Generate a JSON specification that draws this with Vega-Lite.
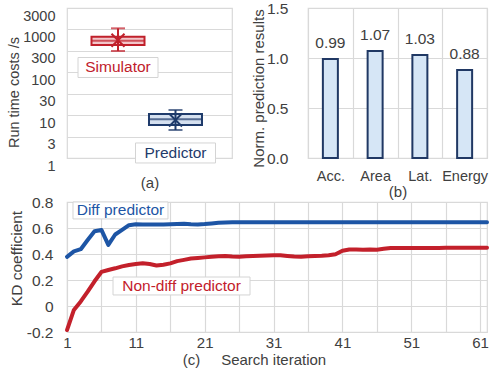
{
  "$schema": "https://vega.github.io/schema/vega-lite/v6.json",
  "autosize": {"type": "none"},
  "padding": {"left": 67, "top": 8, "right": 425, "bottom": 363},
  "bounds": "flush",
  "spacing": 194,
  "resolve": {"scale": {"color": "independent", "fill": "independent", "stroke": "independent"}},
  "config": {
    "font": "Liberation Sans",
    "view": {"stroke": "#D9D9D9", "strokeWidth": 1.2},
    "axis": {
      "labelFont": "Liberation Sans", "titleFont": "Liberation Sans",
      "labelFontSize": 15, "titleFontSize": 15, "titleFontWeight": "normal",
      "labelColor": "#404040", "titleColor": "#404040", "labelOverlap": false,
      "gridColor": "#D9D9D9", "gridWidth": 1.2, "domain": false, "ticks": false
    },
    "text": {"font": "Liberation Sans"}
  },
  "vconcat": [
    {
      "hconcat": [
        {
          "width": 165,
          "height": 150,
          "data": {"values": [
            {"tool": "Simulator", "min": 314, "q1": 433, "median": 547, "q3": 677, "max": 1061, "mean": 560},
            {"tool": "Predictor", "min": 4.5, "q1": 5.9, "median": 8.0, "q3": 10.6, "max": 13.2, "mean": 7.7}
          ]},
          "encoding": {
            "x": {"field": "tool", "type": "nominal", "sort": ["Simulator", "Predictor"],
              "scale": {"paddingInner": 0, "paddingOuter": 0.435, "align": 0.445},
              "axis": {"labels": false, "grid": false, "title": "(a)", "titleY": 24, "titleBaseline": "middle", "titleFontSize": 15}}
          },
          "layer": [
            {
              "mark": {"type": "bar", "size": 53, "strokeWidth": 2},
              "encoding": {
                "y": {"field": "q1", "type": "quantitative", "title": "Run time costs /s",
                  "scale": {"type": "log", "domain": [1, 3163], "nice": false},
                  "axis": {"values": [1, 3.16228, 10, 31.6228, 100, 316.228, 1000, 3162.28], "format": ".1r",
                    "labelOverlap": false, "labelFlush": false, "tickCount": 20,
                    "labelFontSize": 14.5, "labelPadding": 12, "labelOffset": 8,
                    "title": "Run time costs /s", "titleFontSize": 14.5, "titleX": -53, "titleY": 84, "titleAngle": -90,
                    "titleBaseline": "middle", "titleAlign": "center"}},
                "y2": {"field": "q3"},
                "fill": {"field": "tool", "type": "nominal", "scale": {"domain": ["Simulator", "Predictor"], "range": ["#F2C6CA", "#D5E0EF"]}, "legend": null},
                "stroke": {"field": "tool", "type": "nominal", "scale": {"domain": ["Simulator", "Predictor"], "range": ["#C0202B", "#1F3B6B"]}, "legend": null}
              }
            },
            {
              "mark": {"type": "tick", "size": 53, "thickness": 2},
              "encoding": {
                "y": {"field": "median", "type": "quantitative", "title": "Run time costs /s"},
                "color": {"field": "tool", "type": "nominal", "scale": {"domain": ["Simulator", "Predictor"], "range": ["#C0202B", "#1F3B6B"]}, "legend": null}
              }
            },
            {
              "mark": {"type": "rule", "strokeWidth": 2},
              "encoding": {
                "y": {"field": "min", "type": "quantitative", "title": "Run time costs /s"},
                "y2": {"field": "max"},
                "color": {"field": "tool", "type": "nominal", "legend": null}
              }
            },
            {
              "mark": {"type": "tick", "size": 14, "thickness": 2},
              "encoding": {
                "y": {"field": "min", "type": "quantitative", "title": "Run time costs /s"},
                "color": {"field": "tool", "type": "nominal", "legend": null}
              }
            },
            {
              "mark": {"type": "tick", "size": 14, "thickness": 2},
              "encoding": {
                "y": {"field": "max", "type": "quantitative", "title": "Run time costs /s"},
                "color": {"field": "tool", "type": "nominal", "legend": null}
              }
            },
            {
              "mark": {"type": "point", "shape": "M-1,-1L1,1M-1,1L1,-1", "size": 169, "strokeWidth": 2, "filled": false, "opacity": 1},
              "encoding": {
                "y": {"field": "mean", "type": "quantitative", "title": "Run time costs /s"},
                "color": {"field": "tool", "type": "nominal", "legend": null}
              }
            },
            {
              "data": {"values": [
                {"tool": "Simulator", "pos": 129.4},
                {"tool": "Predictor", "pos": 1.31}
              ]},
              "mark": {"type": "point", "shape": "M-1,-0.25L1,-0.25L1,0.25L-1,0.25Z", "size": 6400, "filled": true, "fill": "#FFFFFF", "stroke": "#D4D4D4", "strokeWidth": 1, "opacity": 1},
              "encoding": {
                "y": {"field": "pos", "type": "quantitative", "title": "Run time costs /s"}
              }
            },
            {
              "data": {"values": [
                {"tool": "Simulator", "pos": 129.4},
                {"tool": "Predictor", "pos": 1.31}
              ]},
              "mark": {"type": "text", "fontSize": 15.5, "baseline": "middle", "align": "center"},
              "encoding": {
                "y": {"field": "pos", "type": "quantitative", "title": "Run time costs /s"},
                "text": {"field": "tool"},
                "color": {"field": "tool", "type": "nominal", "legend": null}
              }
            }
          ]
        },
        {
          "width": 179,
          "height": 150,
          "data": {"values": [
            {"metric": "Acc.", "value": 0.99},
            {"metric": "Area", "value": 1.07},
            {"metric": "Lat.", "value": 1.03},
            {"metric": "Energy", "value": 0.88}
          ]},
          "encoding": {
            "x": {"field": "metric", "type": "nominal", "sort": null,
              "scale": {"paddingInner": 0, "paddingOuter": 0},
              "axis": {"labelAngle": 0, "labelPadding": 11, "labelFontSize": 14.5, "grid": true, "tickBand": "extent",
                "labelOverlap": false,
                "title": "(b)", "titleY": 33, "titleBaseline": "middle"}},
            "y": {"field": "value", "type": "quantitative",
              "scale": {"domain": [0, 1.5], "nice": false},
              "axis": {"values": [0, 0.5, 1, 1.5], "format": ".1f", "labelPadding": 20, "labelFontSize": 15.5,
                "labelOverlap": false, "tickCount": 10,
                "title": "Norm. prediction results", "titleX": -50, "titleY": 80, "titleAngle": -90,
                "titleBaseline": "middle", "titleAlign": "center"}}
          },
          "layer": [
            {"mark": {"type": "bar", "size": 15, "fill": "#D6E6F6", "stroke": "#203864", "strokeWidth": 2}},
            {"mark": {"type": "text", "dy": -16, "fontSize": 15.5, "color": "#404040", "baseline": "middle"},
             "encoding": {"text": {"field": "value", "type": "quantitative", "format": ".2f"}}}
          ]
        }
      ],
      "spacing": 76,
      "bounds": "flush",
      "resolve": {"scale": {"color": "independent", "fill": "independent", "stroke": "independent"}}
    },
    {
      "width": 420,
      "height": 130,
      "data": {"values": [
        {"iter": 1, "series": "Diff predictor", "kd": 0.378},
        {"iter": 2, "series": "Diff predictor", "kd": 0.42},
        {"iter": 3, "series": "Diff predictor", "kd": 0.437},
        {"iter": 4, "series": "Diff predictor", "kd": 0.508},
        {"iter": 5, "series": "Diff predictor", "kd": 0.575},
        {"iter": 6, "series": "Diff predictor", "kd": 0.585},
        {"iter": 7, "series": "Diff predictor", "kd": 0.47},
        {"iter": 8, "series": "Diff predictor", "kd": 0.55},
        {"iter": 9, "series": "Diff predictor", "kd": 0.585},
        {"iter": 10, "series": "Diff predictor", "kd": 0.622},
        {"iter": 11, "series": "Diff predictor", "kd": 0.628},
        {"iter": 12, "series": "Diff predictor", "kd": 0.627},
        {"iter": 13, "series": "Diff predictor", "kd": 0.626},
        {"iter": 14, "series": "Diff predictor", "kd": 0.626},
        {"iter": 15, "series": "Diff predictor", "kd": 0.627},
        {"iter": 16, "series": "Diff predictor", "kd": 0.628},
        {"iter": 17, "series": "Diff predictor", "kd": 0.63},
        {"iter": 18, "series": "Diff predictor", "kd": 0.632},
        {"iter": 19, "series": "Diff predictor", "kd": 0.628},
        {"iter": 20, "series": "Diff predictor", "kd": 0.627},
        {"iter": 21, "series": "Diff predictor", "kd": 0.63},
        {"iter": 22, "series": "Diff predictor", "kd": 0.635},
        {"iter": 23, "series": "Diff predictor", "kd": 0.64},
        {"iter": 24, "series": "Diff predictor", "kd": 0.642},
        {"iter": 25, "series": "Diff predictor", "kd": 0.644},
        {"iter": 26, "series": "Diff predictor", "kd": 0.644},
        {"iter": 27, "series": "Diff predictor", "kd": 0.644},
        {"iter": 28, "series": "Diff predictor", "kd": 0.644},
        {"iter": 29, "series": "Diff predictor", "kd": 0.644},
        {"iter": 30, "series": "Diff predictor", "kd": 0.644},
        {"iter": 31, "series": "Diff predictor", "kd": 0.644},
        {"iter": 32, "series": "Diff predictor", "kd": 0.644},
        {"iter": 33, "series": "Diff predictor", "kd": 0.644},
        {"iter": 34, "series": "Diff predictor", "kd": 0.644},
        {"iter": 35, "series": "Diff predictor", "kd": 0.644},
        {"iter": 36, "series": "Diff predictor", "kd": 0.644},
        {"iter": 37, "series": "Diff predictor", "kd": 0.644},
        {"iter": 38, "series": "Diff predictor", "kd": 0.644},
        {"iter": 39, "series": "Diff predictor", "kd": 0.644},
        {"iter": 40, "series": "Diff predictor", "kd": 0.644},
        {"iter": 41, "series": "Diff predictor", "kd": 0.644},
        {"iter": 42, "series": "Diff predictor", "kd": 0.645},
        {"iter": 43, "series": "Diff predictor", "kd": 0.645},
        {"iter": 44, "series": "Diff predictor", "kd": 0.645},
        {"iter": 45, "series": "Diff predictor", "kd": 0.645},
        {"iter": 46, "series": "Diff predictor", "kd": 0.645},
        {"iter": 47, "series": "Diff predictor", "kd": 0.645},
        {"iter": 48, "series": "Diff predictor", "kd": 0.645},
        {"iter": 49, "series": "Diff predictor", "kd": 0.645},
        {"iter": 50, "series": "Diff predictor", "kd": 0.645},
        {"iter": 51, "series": "Diff predictor", "kd": 0.645},
        {"iter": 52, "series": "Diff predictor", "kd": 0.645},
        {"iter": 53, "series": "Diff predictor", "kd": 0.645},
        {"iter": 54, "series": "Diff predictor", "kd": 0.645},
        {"iter": 55, "series": "Diff predictor", "kd": 0.645},
        {"iter": 56, "series": "Diff predictor", "kd": 0.645},
        {"iter": 57, "series": "Diff predictor", "kd": 0.645},
        {"iter": 58, "series": "Diff predictor", "kd": 0.645},
        {"iter": 59, "series": "Diff predictor", "kd": 0.645},
        {"iter": 60, "series": "Diff predictor", "kd": 0.645},
        {"iter": 61, "series": "Diff predictor", "kd": 0.645},
        {"iter": 62, "series": "Diff predictor", "kd": 0.645},
        {"iter": 1, "series": "Non-diff predictor", "kd": -0.185},
        {"iter": 2, "series": "Non-diff predictor", "kd": -0.03},
        {"iter": 3, "series": "Non-diff predictor", "kd": 0.035},
        {"iter": 4, "series": "Non-diff predictor", "kd": 0.11},
        {"iter": 5, "series": "Non-diff predictor", "kd": 0.19},
        {"iter": 6, "series": "Non-diff predictor", "kd": 0.262},
        {"iter": 7, "series": "Non-diff predictor", "kd": 0.277},
        {"iter": 8, "series": "Non-diff predictor", "kd": 0.29},
        {"iter": 9, "series": "Non-diff predictor", "kd": 0.305},
        {"iter": 10, "series": "Non-diff predictor", "kd": 0.316},
        {"iter": 11, "series": "Non-diff predictor", "kd": 0.323},
        {"iter": 12, "series": "Non-diff predictor", "kd": 0.328},
        {"iter": 13, "series": "Non-diff predictor", "kd": 0.323},
        {"iter": 14, "series": "Non-diff predictor", "kd": 0.312},
        {"iter": 15, "series": "Non-diff predictor", "kd": 0.318},
        {"iter": 16, "series": "Non-diff predictor", "kd": 0.328},
        {"iter": 17, "series": "Non-diff predictor", "kd": 0.345},
        {"iter": 18, "series": "Non-diff predictor", "kd": 0.355},
        {"iter": 19, "series": "Non-diff predictor", "kd": 0.365},
        {"iter": 20, "series": "Non-diff predictor", "kd": 0.37},
        {"iter": 21, "series": "Non-diff predictor", "kd": 0.374},
        {"iter": 22, "series": "Non-diff predictor", "kd": 0.378},
        {"iter": 23, "series": "Non-diff predictor", "kd": 0.383},
        {"iter": 24, "series": "Non-diff predictor", "kd": 0.385},
        {"iter": 25, "series": "Non-diff predictor", "kd": 0.38},
        {"iter": 26, "series": "Non-diff predictor", "kd": 0.378},
        {"iter": 27, "series": "Non-diff predictor", "kd": 0.382},
        {"iter": 28, "series": "Non-diff predictor", "kd": 0.385},
        {"iter": 29, "series": "Non-diff predictor", "kd": 0.386},
        {"iter": 30, "series": "Non-diff predictor", "kd": 0.388},
        {"iter": 31, "series": "Non-diff predictor", "kd": 0.39},
        {"iter": 32, "series": "Non-diff predictor", "kd": 0.39},
        {"iter": 33, "series": "Non-diff predictor", "kd": 0.385},
        {"iter": 34, "series": "Non-diff predictor", "kd": 0.38},
        {"iter": 35, "series": "Non-diff predictor", "kd": 0.378},
        {"iter": 36, "series": "Non-diff predictor", "kd": 0.382},
        {"iter": 37, "series": "Non-diff predictor", "kd": 0.385},
        {"iter": 38, "series": "Non-diff predictor", "kd": 0.386},
        {"iter": 39, "series": "Non-diff predictor", "kd": 0.39},
        {"iter": 40, "series": "Non-diff predictor", "kd": 0.398},
        {"iter": 41, "series": "Non-diff predictor", "kd": 0.425},
        {"iter": 42, "series": "Non-diff predictor", "kd": 0.434},
        {"iter": 43, "series": "Non-diff predictor", "kd": 0.434},
        {"iter": 44, "series": "Non-diff predictor", "kd": 0.432},
        {"iter": 45, "series": "Non-diff predictor", "kd": 0.435},
        {"iter": 46, "series": "Non-diff predictor", "kd": 0.433},
        {"iter": 47, "series": "Non-diff predictor", "kd": 0.44},
        {"iter": 48, "series": "Non-diff predictor", "kd": 0.446},
        {"iter": 49, "series": "Non-diff predictor", "kd": 0.447},
        {"iter": 50, "series": "Non-diff predictor", "kd": 0.446},
        {"iter": 51, "series": "Non-diff predictor", "kd": 0.446},
        {"iter": 52, "series": "Non-diff predictor", "kd": 0.446},
        {"iter": 53, "series": "Non-diff predictor", "kd": 0.446},
        {"iter": 54, "series": "Non-diff predictor", "kd": 0.446},
        {"iter": 55, "series": "Non-diff predictor", "kd": 0.447},
        {"iter": 56, "series": "Non-diff predictor", "kd": 0.448},
        {"iter": 57, "series": "Non-diff predictor", "kd": 0.448},
        {"iter": 58, "series": "Non-diff predictor", "kd": 0.448},
        {"iter": 59, "series": "Non-diff predictor", "kd": 0.448},
        {"iter": 60, "series": "Non-diff predictor", "kd": 0.448},
        {"iter": 61, "series": "Non-diff predictor", "kd": 0.448},
        {"iter": 62, "series": "Non-diff predictor", "kd": 0.448}
      ]},
      "layer": [
        {
          "mark": {"type": "line", "strokeWidth": 4, "strokeCap": "round", "strokeJoin": "round"},
          "encoding": {
            "x": {"field": "iter", "type": "quantitative",
              "scale": {"domain": [1, 62], "nice": false, "zero": false},
              "axis": {"values": [1, 6, 11, 16, 21, 26, 31, 36, 41, 46, 51, 56, 61],
                "labelExpr": "(datum.value - 1) % 10 == 0 ? datum.label : ''",
                "labelOverlap": false, "labelFlush": false, "tickCount": 30,
                "labelPadding": 3, "labelFontSize": 15,
                "title": "(c)\u00a0\u00a0\u00a0\u00a0\u00a0Search iteration", "titleX": 187, "titleY": 27, "titleBaseline": "middle"}},
            "y": {"field": "kd", "type": "quantitative",
              "scale": {"domain": [-0.2, 0.8], "nice": false, "zero": false},
              "axis": {"values": [-0.2, 0, 0.2, 0.4, 0.6, 0.8],
                "labelExpr": "datum.value < 0 ? '-' + format(-datum.value, '.1~f') : format(datum.value, '.1~f')",
                "labelOverlap": false, "labelFlush": false, "tickCount": 12,
                "labelPadding": 14, "labelFontSize": 15.5,
                "title": "KD coefficient", "titleFontSize": 15.5, "titleX": -51, "titleY": 56, "titleAngle": -90,
                "titleBaseline": "middle", "titleAlign": "center"}},
            "color": {"field": "series", "type": "nominal",
              "scale": {"domain": ["Diff predictor", "Non-diff predictor"], "range": ["#1D55A5", "#C3202B"]}, "legend": null}
          }
        },
        {
          "data": {"values": [{"iter": 8.77, "kd": 0.735, "series": "Diff predictor"}]},
          "mark": {"type": "point", "shape": "M-1,-0.179L1,-0.179L1,0.179L-1,0.179Z", "size": 9025, "filled": true, "fill": "#FFFFFF", "stroke": "#D4D4D4", "strokeWidth": 1, "opacity": 1},
          "encoding": {
            "x": {"field": "iter", "type": "quantitative"},
            "y": {"field": "kd", "type": "quantitative"}
          }
        },
        {
          "data": {"values": [{"iter": 17.63, "kd": 0.154, "series": "Non-diff predictor"}]},
          "mark": {"type": "point", "shape": "M-1,-0.131L1,-0.131L1,0.131L-1,0.131Z", "size": 18769, "filled": true, "fill": "#FFFFFF", "stroke": "#D4D4D4", "strokeWidth": 1, "opacity": 1},
          "encoding": {
            "x": {"field": "iter", "type": "quantitative"},
            "y": {"field": "kd", "type": "quantitative"}
          }
        },
        {
          "data": {"values": [
            {"iter": 8.77, "kd": 0.735, "series": "Diff predictor"},
            {"iter": 17.63, "kd": 0.154, "series": "Non-diff predictor"}
          ]},
          "mark": {"type": "text", "fontSize": 15.5, "baseline": "middle", "align": "center"},
          "encoding": {
            "x": {"field": "iter", "type": "quantitative"},
            "y": {"field": "kd", "type": "quantitative"},
            "text": {"field": "series"},
            "color": {"field": "series", "type": "nominal",
              "scale": {"domain": ["Diff predictor", "Non-diff predictor"], "range": ["#1D55A5", "#C3202B"]}, "legend": null}
          }
        }
      ]
    }
  ]
}
